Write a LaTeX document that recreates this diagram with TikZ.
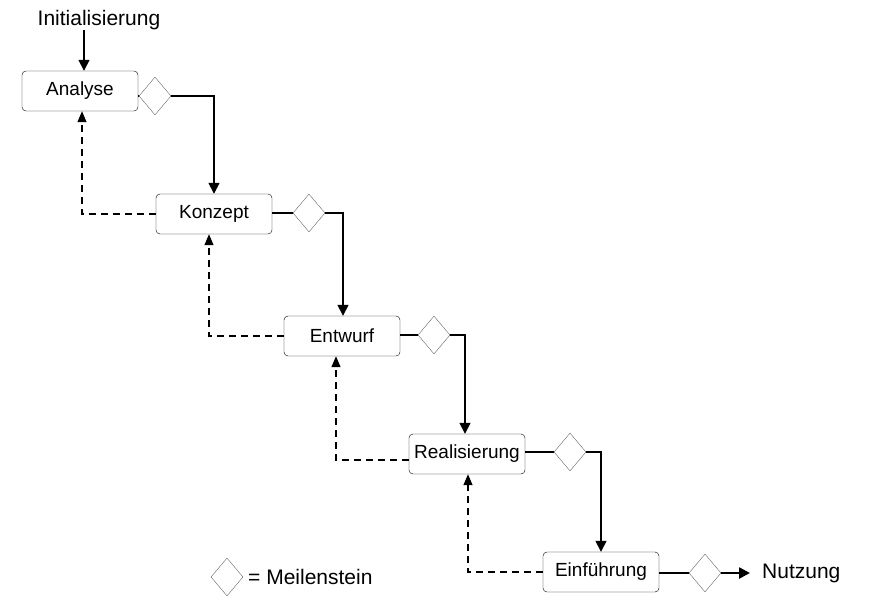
\documentclass[tikz,border=0pt]{standalone}
\usepackage{fontspec}
\setmainfont{Liberation Sans}
\usetikzlibrary{shapes.geometric,arrows.meta}
\begin{document}
\begin{tikzpicture}[x=1pt,y=-1pt,
 box/.style={draw,rounded corners=4pt,minimum width=116pt,minimum height=40pt,inner sep=0pt,font=\fontsize{19}{19}\selectfont},
 ms/.style={draw=black!60,diamond,minimum width=32pt,minimum height=38pt,inner sep=0pt},
 flow/.style={line width=1.5pt,-{Triangle[length=11pt,width=11pt]}},
 back/.style={dashed,line width=1.2pt,dash pattern=on 7pt off 5pt,-{Triangle[length=11pt,width=9pt]}},
 lbl/.style={font=\fontsize{21}{21}\selectfont,inner sep=0pt}]
\useasboundingbox (0,0) rectangle (883,613);
\node[box] (a) at (80,91) {Analyse};
\node[box] (k) at (214,214) {Konzept};
\node[box] (e) at (342,336) {Entwurf};
\node[box] (r) at (467,454) {Realisierung};
\node[box] (f) at (601,572) {Einführung};
\node[ms] (da) at (155,96) {};
\node[ms] (dk) at (309,213) {};
\node[ms] (de) at (434,335) {};
\node[ms] (dr) at (570,452) {};
\node[ms] (df) at (705,573) {};
\node[lbl] (init) at (99,20) {Initialisierung};
\node[lbl,anchor=west] (nu) at (762,573) {Nutzung};
\node[ms] (leg) at (227,577) {};
\node[lbl,anchor=west] (legt) at (248,577) {= Meilenstein};
\draw[flow] (init.south -| 84,0) -- (a.north -| 84,0);
\draw[line width=1.5pt] (a.east |- da) -- (da.west);
\draw[line width=1.5pt] (k.east |- dk) -- (dk.west);
\draw[line width=1.5pt] (e.east |- de) -- (de.west);
\draw[line width=1.5pt] (r.east |- dr) -- (dr.west);
\draw[line width=2.5pt] (f.east |- df) -- (df.west);
\draw[flow] (da.east) -| (k.north);
\draw[flow] (dk.east) -| (e.north -| 343,0);
\draw[flow] (de.east) -| (r.north -| 465,0);
\draw[flow] (dr.east) -| (f.north);
\draw[flow,line width=2.5pt] (df.east) -- (nu.west -| 750,0);
\draw[back] (k.west) -| (a.south -| 82,0);
\draw[back] (e.west) -| (k.south -| 209,0);
\draw[back] (r.west |- 0,460) -| (e.south -| 336,0);
\draw[back] (f.west) -| (r.south -| 468,0);
\end{tikzpicture}
\end{document}
